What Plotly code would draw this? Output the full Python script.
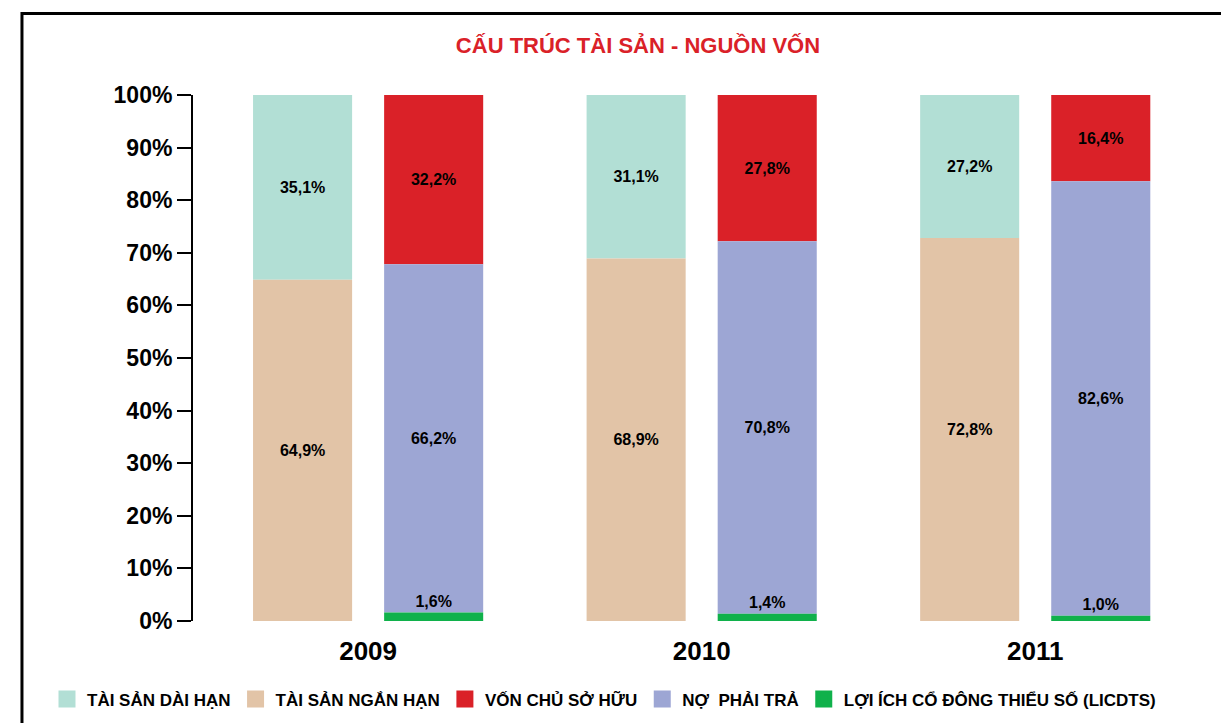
import plotly.graph_objects as go

# Data
years = ["2009", "2010", "2011"]
tai_san_dai_han = [35.1, 31.1, 27.2]
tai_san_ngan_han = [64.9, 68.9, 72.8]
licdts = [1.6, 1.4, 1.0]
no_phai_tra = [66.2, 70.8, 82.6]
von_chu_so_huu = [32.2, 27.8, 16.4]

FONT = "Liberation Sans, Arial, sans-serif"
BAR_W = 0.297
OFF_ASSET = -0.345
OFF_SOURCE = 0.048


def fmt(v):
    return f"{v:.1f}%".replace(".", ",")


def stack_base(*series):
    out = []
    acc = [0.0] * len(years)
    for s in series:
        out.append(list(acc))
        acc = [a + b for a, b in zip(acc, s)]
    return out


asset_bases = stack_base(tai_san_ngan_han, tai_san_dai_han)
source_bases = stack_base(licdts, no_phai_tra, von_chu_so_huu)

fig = go.Figure()

text_font = dict(family=FONT, size=16, color="black", weight="bold")

specs = [
    ("TÀI SẢN DÀI HẠN", tai_san_dai_han, asset_bases[1], OFF_ASSET, "#b2dfd5", "inside"),
    ("TÀI SẢN NGẮN HẠN", tai_san_ngan_han, asset_bases[0], OFF_ASSET, "#e2c4a7", "inside"),
    ("VỐN CHỦ SỞ HỮU", von_chu_so_huu, source_bases[2], OFF_SOURCE, "#da2128", "inside"),
    ("NỢ  PHẢI TRẢ", no_phai_tra, source_bases[1], OFF_SOURCE, "#9da6d4", "inside"),
    ("LỢI ÍCH CỔ ĐÔNG THIỂU SỐ (LICDTS)", licdts, source_bases[0], OFF_SOURCE, "#10b14b", "outside"),
]

for name, vals, base, off, color, tpos in specs:
    fig.add_trace(go.Bar(
        x=years,
        y=vals,
        base=base,
        name=name,
        width=BAR_W,
        offset=off,
        marker=dict(color=color, line_width=0),
        text=[fmt(v) for v in vals],
        textposition=tpos,
        insidetextanchor="middle",
        textfont=text_font,
        outsidetextfont=text_font,
        insidetextfont=text_font,
        constraintext="none",
        cliponaxis=False,
        showlegend=False,
    ))

# legend entries (bigger swatches via same-colour outline)
for name, _, _, _, color, _ in specs:
    fig.add_trace(go.Bar(
        x=[None], y=[None], name=name,
        marker=dict(color=color, line=dict(color=color, width=5)),
        showlegend=True,
    ))

fig.update_layout(
    width=1221,
    height=723,
    barmode="overlay",
    plot_bgcolor="white",
    paper_bgcolor="white",
    margin=dict(l=193, r=19, t=95, b=102, autoexpand=False),
    title=dict(
        text="CẤU TRÚC TÀI SẢN - NGUỒN VỐN",
        font=dict(family=FONT, size=22, color="#da2128", weight="bold"),
        x=0.5225, xref="container", xanchor="center",
        y=1 - 45 / 723, yanchor="middle",
    ),
    legend=dict(
        orientation="h",
        xref="paper",
        x=-0.1447, xanchor="left",
        y=-0.149, yanchor="middle",
        font=dict(family=FONT, size=17, color="black", weight="bold"),
        traceorder="normal",
    ),
    showlegend=True,
)

fig.update_xaxes(
    type="category",
    categoryorder="array",
    categoryarray=years,
    range=[-0.525, 2.5],
    showline=False,
    showgrid=False,
    ticks="",
    ticklabelstandoff=12,
    tickfont=dict(family=FONT, size=26, color="black", weight="bold"),
)

fig.update_yaxes(
    range=[0, 100],
    dtick=10,
    ticksuffix="%",
    showgrid=False,
    zeroline=False,
    showline=True,
    linecolor="black",
    linewidth=2,
    ticks="outside",
    ticklen=14,
    tickwidth=2,
    tickcolor="black",
    tickfont=dict(family=FONT, size=23, color="black", weight="bold"),
)

# outer frame (left and top edges visible)
fig.add_shape(
    type="rect", xref="paper", yref="paper",
    x0=-0.1695, x1=1.2, y0=-0.4, y1=1.155,
    line=dict(color="black", width=3),
    layer="below",
)

fig.write_html(
    "out.html",
    config={"displayModeBar": False},
    post_script="document.body.style.margin='0px';",
)
